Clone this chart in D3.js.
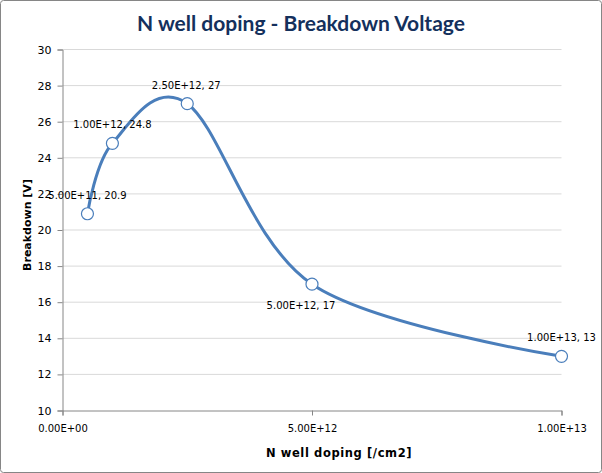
<!DOCTYPE html>
<html><head><meta charset="utf-8">
<script src="https://cdn.jsdelivr.net/npm/d3@7"></script>
<style>body{margin:0;background:#fff}svg{display:block}</style>
</head><body>
<svg id="c" width="602" height="473"></svg>
<script>
const doping = [5e11, 1e12, 2.5e12, 5e12, 1e13];
const breakdown = [20.9, 24.8, 27, 17, 13];
const labelPos = ["above", "above", "above", "below", "above"];
const labelShift = [0, 0, -1, -11, 0];
const yTicks = [10, 12, 14, 16, 18, 20, 22, 24, 26, 28, 30];
const xTicks = [0, 5e12, 1e13];
const xTickLabels = ["0.00E+00", "5.00E+12", "1.00E+13"];
const title = "N well doping - Breakdown Voltage";
const xTitle = "N well doping [/cm2]";
const yTitle = "Breakdown [V]";

const svg = d3.select("#c");
const font = "DejaVu Sans, Verdana, sans-serif";
svg.append("rect").attr("x",0.5).attr("y",0.5).attr("width",601).attr("height",472)
  .attr("rx",3).attr("fill","#fff").attr("stroke","#868686");

const x = d3.scaleLinear().domain([0,1e13]).range([62.5,561.5]);
const y = d3.scaleLinear().domain([10,30]).range([410.5,49.5]);

// gridlines
svg.append("g").selectAll("line").data(yTicks.filter(d=>d>10)).join("line")
  .attr("x1",x(0)).attr("x2",x(1e13)).attr("y1",d=>y(d)).attr("y2",d=>y(d))
  .attr("stroke","#d9d9d9").attr("stroke-width",1);

// y axis
const ya = svg.append("g").attr("transform",`translate(${x(0)},0)`)
  .call(d3.axisLeft(y).tickValues(yTicks).tickSize(5).tickPadding(6).tickFormat(d3.format("d")));
ya.select(".domain").attr("stroke","#868686");
ya.selectAll(".tick line").attr("stroke","#868686");
ya.selectAll("text").attr("font-family",font).attr("font-size",11).attr("fill","#000");

// x axis
const xa = svg.append("g").attr("transform",`translate(0,${y(10)})`)
  .call(d3.axisBottom(x).tickValues(xTicks).tickSize(5).tickPadding(9).tickFormat((d,i)=>xTickLabels[i]));
xa.select(".domain").attr("stroke","#868686");
xa.selectAll(".tick line").attr("stroke","#868686");
xa.selectAll("text").attr("font-family",font).attr("font-size",10).attr("fill","#000");

// line
const pts = doping.map((d,i)=>[x(d), y(breakdown[i])]);
svg.append("path").attr("d", d3.line().curve(d3.curveCardinal.tension(0))(pts))
  .attr("fill","none").attr("stroke","#4a7ebb").attr("stroke-width",3);

svg.append("g").selectAll("circle").data(pts).join("circle")
  .attr("cx",d=>d[0]).attr("cy",d=>d[1]).attr("r",6)
  .attr("fill","#fff").attr("stroke","#4a7ebb").attr("stroke-width",1.2);

// data labels
svg.append("g").selectAll("text").data(doping).join("text")
  .attr("x",(d,i)=>x(d)+labelShift[i])
  .attr("y",(d,i)=>y(breakdown[i]) + (labelPos[i]==="above" ? -15 : 25))
  .attr("text-anchor","middle").attr("font-family",font).attr("font-size",10).attr("fill","#000")
  .text((d,i)=>d.toExponential(2).toUpperCase() + ", " + breakdown[i]);

// titles
svg.append("text").attr("x",301).attr("y",31).attr("text-anchor","middle")
  .attr("font-family","Lato, 'Open Sans', sans-serif").attr("font-weight","bold").attr("font-size",21)
  .attr("fill","#14305c").text(title);
svg.append("text").attr("x",339).attr("y",457).attr("text-anchor","middle")
  .attr("font-family",font).attr("font-weight","bold").attr("font-size",11.5).attr("letter-spacing",0.6)
  .attr("fill","#000").text(xTitle);
svg.append("text").attr("transform","translate(30.5,225) rotate(-90)").attr("text-anchor","middle")
  .attr("font-family",font).attr("font-weight","bold").attr("font-size",11).attr("fill","#000").text(yTitle);
</script>
</body></html>
